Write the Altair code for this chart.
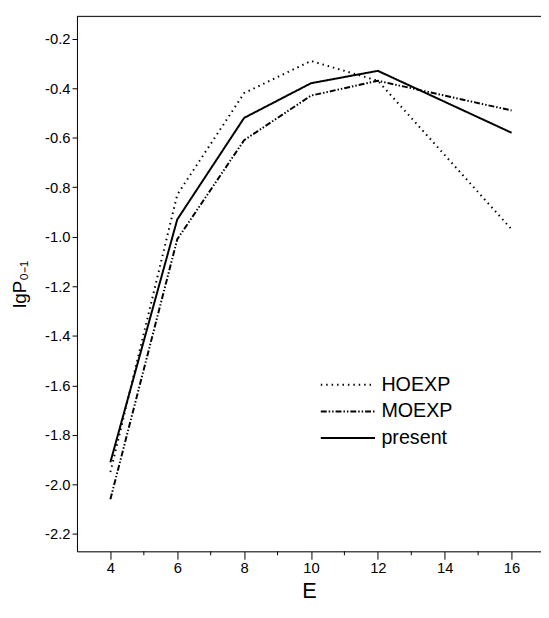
import altair as alt
import pandas as pd

# ---- data ----
energy = [4, 6, 8, 10, 12, 16]
hoexp = [-1.95, -0.83, -0.42, -0.29, -0.37, -0.97]
moexp = [-2.06, -1.01, -0.61, -0.43, -0.37, -0.49]
present = [-1.91, -0.93, -0.52, -0.38, -0.33, -0.58]
series_names = ["HOEXP", "MOEXP", "present"]
x_ticks = [4, 6, 8, 10, 12, 14, 16]
x_minor = [5, 7, 9, 11, 13, 15]
y_ticks = [-0.2, -0.4, -0.6, -0.8, -1.0, -1.2, -1.4, -1.6, -1.8, -2.0, -2.2]

rows = []
for name, vals in zip(series_names, [hoexp, moexp, present]):
    for e, v in zip(energy, vals):
        rows.append({"E": e, "lgP": v, "series": name})
df = pd.DataFrame(rows)

W, H = 471, 543
FONT = "Liberation Sans"

xscale = alt.Scale(domain=[3, 16.88], nice=False, zero=False)
yscale = alt.Scale(domain=[-2.27, -0.11], nice=False, zero=False)

lines = alt.Chart(df).mark_line(color="black").encode(
    x=alt.X("E:Q", scale=xscale,
            axis=alt.Axis(values=x_ticks, title="E", titleFontSize=22,
                          titleFontWeight="normal", titleY=40, titleBaseline="middle",
                          labelFontSize=15, labelPadding=2, tickSize=8,
                          tickColor="black", domainColor="black", labelColor="black",
                          titleColor="black", grid=False, labelFlush=False)),
    y=alt.Y("lgP:Q", scale=yscale,
            axis=alt.Axis(values=y_ticks, title="lgP₀₋₁", titleFontSize=19,
                          titleFontWeight="normal", titleX=-58, titleY=H / 2,
                          titleAngle=270, titleAlign="center", titleBaseline="middle",
                          labelFontSize=15, labelPadding=2, tickSize=5,
                          labelExpr="replace(format(datum.value, '.1f'), '\u2212', '-')",
                          tickColor="black", domainColor="black", labelColor="black",
                          titleColor="black", grid=False, labelFlush=False)),
    strokeDash=alt.StrokeDash(
        "series:N",
        scale=alt.Scale(domain=series_names,
                        range=[[1.5, 4], [6, 2, 1.5, 2, 1.5, 2], [1, 0]]),
        legend=alt.Legend(title=None, orient="none", legendX=263, legendY=362,
                          symbolType="M-2.5,0H2.5", symbolSize=484,
                          symbolStrokeColor="black", symbolStrokeWidth=2,
                          labelFontSize=20, labelOffset=22, rowPadding=5,
                          labelColor="black", padding=0)),
    strokeWidth=alt.StrokeWidth(
        "series:N",
        scale=alt.Scale(domain=series_names, range=[2, 2, 2.5]),
        legend=None),
)

minor = alt.Chart(pd.DataFrame({"E": x_minor})).mark_rule(
    color="black", strokeWidth=1).encode(
    x=alt.X("E:Q", scale=xscale),
    y=alt.value(H), y2=alt.value(H + 4))

top_border = alt.Chart(pd.DataFrame({"E": [3]})).mark_rule(
    color="black", strokeWidth=1).encode(
    x=alt.value(0), x2=alt.value(W), y=alt.value(0))

chart = alt.layer(lines, minor, top_border).properties(
    width=W, height=H,
    autosize=alt.AutoSizeParams(type="none"),
    padding={"left": 70, "top": 4, "right": 0, "bottom": 50},
).configure_view(stroke=None).configure(font=FONT)

chart.save("out.html", embed_options={"renderer": "svg", "actions": False})
